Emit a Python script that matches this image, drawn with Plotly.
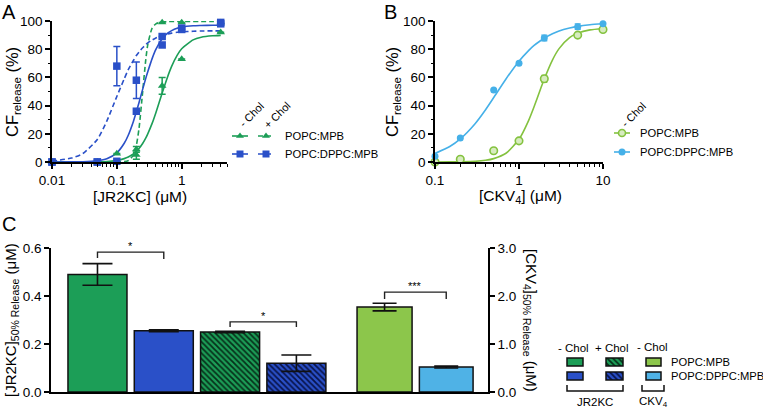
import plotly.graph_objects as go

W, H = 763, 408
FONT = "Liberation Sans, Arial, sans-serif"

# ---------------- Panel A data (JR2KC) ----------------
A_X = [0.01, 0.05, 0.1, 0.2, 0.5, 1, 4]
A_POPC_NOCHOL = [0, 0, 6, 9, 54, 73, 92]
A_POPC_NOCHOL_ERR = [0, 0, 0, 2, 6, 0, 0]
A_POPC_CHOL = [0, 0, 0, 5, 99, 99, 99]
A_POPC_CHOL_ERR = [0, 0, 0, 3, 0, 0, 0]
A_DPPC_NOCHOL = [0, 0, 0.5, 36, 83, 95, 99]
A_DPPC_CHOL = [0, 0, 68, 58, 89, 94, 98]
A_DPPC_CHOL_ERR = [0, 0, 14, 13, 0, 0, 0]

# fitted curves
A_CURVE_X = [0.01, 0.02, 0.03, 0.05, 0.07, 0.1, 0.13, 0.15, 0.18, 0.2, 0.22, 0.25, 0.28,
             0.3, 0.35, 0.4, 0.5, 0.6, 0.7, 0.85, 1, 1.5, 2, 3, 4]
A_FIT_POPC_NOCHOL = [0, 0, 0.1, 0.2, 0.4, 1.2, 2.4, 3.5, 5.7, 7.6, 9.6, 13.1, 17.1,
                     20, 27.4, 35, 48.9, 59.8, 67.8, 75.6, 80.3, 86.6, 88.5, 89.5, 89.8]
A_FIT_POPC_CHOL = [0, 0, 0, 0, 0, 0.1, 0.3, 1, 4.9, 11.8, 23.9, 49.7, 73,
                   83.3, 95, 98, 99.4, 99.6, 99.7, 99.7, 99.7, 99.7, 99.7, 99.7, 99.7]
A_FIT_DPPC_NOCHOL = [0, 0.1, 0.2, 0.9, 2.3, 6.5, 13.3, 19, 28.8, 35.6, 42.2, 51.5, 59.5,
                     64, 73.3, 79.8, 87.4, 91.2, 93.2, 94.9, 95.7, 96.6, 96.8, 97, 97]
A_FIT_DPPC_CHOL = [0.6, 2.8, 6, 16, 29, 46.5, 59, 65.5, 72, 75.5, 78, 81, 83.3,
                   84.5, 86.5, 88, 89.8, 90.8, 91.4, 92, 92.3, 92.7, 92.9, 93, 93]

# ---------------- Panel B data (CKV4) ----------------
B_X = [0.1, 0.2, 0.5, 1, 2, 5, 10]
B_POPC = [0, 2, 8, 15, 59, 90, 94]
B_POPC_ERR = [0, 1, 1.5, 1.5, 2.5, 1, 0]
B_DPPC = [4, 17, 51, 70, 88, 96, 98]
B_DPPC_ERR = [0, 0, 0, 0, 2, 2, 0]

B_CURVE_X = [0.1, 0.15, 0.2, 0.3, 0.4, 0.5, 0.7, 1, 1.3, 1.5, 1.8, 2, 2.5, 3, 4, 5, 7, 10]
B_FIT_POPC = [0, 0.1, 0.2, 0.5, 1.2, 2.4, 6.2, 16.1, 29.4, 38.7, 51.6, 58.9, 72.3, 80.4,
              88.2, 91.4, 93.7, 94.5]
B_FIT_DPPC = [6.1, 11, 16.4, 27.2, 37.1, 45.7, 58.9, 71.5, 79, 82.5, 86, 87.8, 90.9, 92.9,
              95, 96.2, 97.3, 98]

# ---------------- Panel C data ----------------
C_JR2KC_LABELS = ["POPC:MPB -Chol", "POPC:DPPC:MPB -Chol", "POPC:MPB +Chol", "POPC:DPPC:MPB +Chol"]
C_JR2KC = [0.49, 0.255, 0.25, 0.12]
C_JR2KC_ERR = [0.045, 0.004, 0.003, 0.034]
C_CKV4_LABELS = ["POPC:MPB -Chol", "POPC:DPPC:MPB -Chol"]
C_CKV4 = [1.77, 0.52]
C_CKV4_ERR = [0.08, 0.02]
C_SIG = ["*", "*", "***"]

# ---------------- styles ----------------
GREEN = "#1c9e57"
BLUE = "#2a50c8"
DKGREEN = "#06301a"
DKBLUE = "#08134a"
LGREEN = "#8cc64b"
LBLUE = "#4fb2e6"
BGREEN_LINE = "#84c23f"
BBLUE_LINE = "#45b0e8"
DASH = "5px,3px"


def px(x):
    return x / W


def py(y):
    return 1 - y / H


def hatch(fg):
    return dict(shape="\\", fgcolor=fg, fgopacity=1, size=4, solidity=0.45, fillmode="overlay")


fig = go.Figure()

# ---- Panel A: fitted curves ----
for ys, col, dash in [(A_FIT_POPC_NOCHOL, GREEN, "solid"), (A_FIT_POPC_CHOL, GREEN, DASH),
                      (A_FIT_DPPC_NOCHOL, BLUE, "solid"), (A_FIT_DPPC_CHOL, BLUE, DASH)]:
    fig.add_trace(go.Scatter(x=A_CURVE_X, y=ys, mode="lines", xaxis="x", yaxis="y",
                             line=dict(color=col, width=1.6, dash=dash, shape="spline", smoothing=0.6),
                             cliponaxis=False, hoverinfo="skip"))
# ---- Panel A: points ----
for ys, err, col, sym in [(A_POPC_NOCHOL, A_POPC_NOCHOL_ERR, GREEN, "triangle-up"),
                          (A_POPC_CHOL, A_POPC_CHOL_ERR, GREEN, "triangle-up"),
                          (A_DPPC_NOCHOL, None, BLUE, "square"),
                          (A_DPPC_CHOL, A_DPPC_CHOL_ERR, BLUE, "square")]:
    fig.add_trace(go.Scatter(
        x=A_X, y=ys, mode="markers", xaxis="x", yaxis="y", cliponaxis=False,
        marker=dict(symbol=sym, size=7.5, color=col),
        error_y=(dict(type="data", array=err, color=col, thickness=1.5, width=3.5, visible=True)
                 if err is not None else None)))

# ---- Panel B: fitted curves ----
for ys, col in [(B_FIT_POPC, BGREEN_LINE), (B_FIT_DPPC, BBLUE_LINE)]:
    fig.add_trace(go.Scatter(x=B_CURVE_X, y=ys, mode="lines", xaxis="x2", yaxis="y2",
                             line=dict(color=col, width=1.6, shape="spline", smoothing=0.6),
                             cliponaxis=False, hoverinfo="skip"))
fig.add_trace(go.Scatter(
    x=B_X, y=B_POPC, mode="markers", xaxis="x2", yaxis="y2", cliponaxis=False,
    marker=dict(symbol="circle", size=7.5, color="#d7ecbf", line=dict(color=BGREEN_LINE, width=1.6)),
    error_y=dict(type="data", array=B_POPC_ERR, color=BGREEN_LINE, thickness=1.3, width=3)))
fig.add_trace(go.Scatter(
    x=B_X, y=B_DPPC, mode="markers", xaxis="x2", yaxis="y2", cliponaxis=False,
    marker=dict(symbol="circle", size=7, color=BBLUE_LINE),
    error_y=dict(type="data", array=B_DPPC_ERR, color=BBLUE_LINE, thickness=1.3, width=3)))

# ---- Panel C: bars ----
C_POS_J = [0, 1, 2, 3]
C_POS_C = [4.33, 5.26]
BAR_LINE = dict(color="#111", width=1.5)
for i, (col, pat) in enumerate([(GREEN, None), (BLUE, None), (GREEN, hatch(DKGREEN)),
                                (BLUE, hatch(DKBLUE))]):
    mk = dict(color=col, line=BAR_LINE)
    if pat:
        mk["pattern"] = pat
    fig.add_trace(go.Bar(
        x=[C_POS_J[i]], y=[C_JR2KC[i]], width=[0.89], xaxis="x3", yaxis="y3", marker=mk,
        error_y=dict(type="data", array=[C_JR2KC_ERR[i]], color="#111", thickness=1.6, width=15),
        hovertext=[C_JR2KC_LABELS[i]]))
fig.add_trace(go.Bar(
    x=C_POS_C, y=C_CKV4, width=[0.83, 0.81], xaxis="x3", yaxis="y5",
    marker=dict(color=[LGREEN, LBLUE], line=BAR_LINE),
    error_y=dict(type="data", array=C_CKV4_ERR, color="#111", thickness=1.6, width=12),
    hovertext=C_CKV4_LABELS))


# ---- Legends drawn on a pixel overlay axis (x4/y4) ----
def legend_sample(x0, x1, y, color, dash, symbol, mcolor, mline=None):
    fig.add_trace(go.Scatter(x=[x0, x1], y=[y, y], mode="lines", xaxis="x4", yaxis="y4",
                             line=dict(color=color, width=1.6, dash=dash), hoverinfo="skip"))
    fig.add_trace(go.Scatter(x=[(x0 + x1) / 2], y=[y], mode="markers", xaxis="x4", yaxis="y4",
                             marker=dict(symbol=symbol, size=7, color=mcolor,
                                         line=mline or dict(width=0)), hoverinfo="skip"))


legend_sample(232, 248, 136, GREEN, "solid", "triangle-up", GREEN)
legend_sample(258, 274, 136, GREEN, DASH, "triangle-up", GREEN)
legend_sample(232, 248, 154, BLUE, "solid", "square", BLUE)
legend_sample(258, 274, 154, BLUE, DASH, "square", BLUE)
legend_sample(614, 630, 133, BGREEN_LINE, "solid", "circle", "#d7ecbf",
              dict(color=BGREEN_LINE, width=1.6))
legend_sample(614, 630, 152, BBLUE_LINE, "solid", "circle", BBLUE_LINE)

# panel C legend swatches
SW = [(575, 16, None), (614.5, 17, True), (653.5, 15, None)]
for row_y, cols, dk in [(358, [GREEN, GREEN, LGREEN], DKGREEN), (372, [BLUE, BLUE, LBLUE], DKBLUE)]:
    for (sx, sw, hat), col in zip(SW, cols):
        mk = dict(color=col, line=BAR_LINE)
        if hat:
            mk["pattern"] = hatch(dk)
        fig.add_trace(go.Bar(x=[sx], y=[8], base=[row_y], width=[sw], xaxis="x4", yaxis="y4",
                             marker=mk, hoverinfo="skip"))

# ---- axes ----
axis_common = dict(showline=True, linecolor="black", linewidth=1.5, ticks="outside",
                   tickcolor="black", tickwidth=1.5, ticklen=5, showgrid=False, zeroline=False,
                   automargin=False,
                   tickfont=dict(size=13.5, color="black", family=FONT))

minorA = [0.02, 0.03, 0.04, 0.05, 0.06, 0.07, 0.08, 0.09, 0.2, 0.3, 0.4, 0.5, 0.6, 0.7, 0.8, 0.9,
          2, 3, 4, 5]
minorB = [0.2, 0.3, 0.4, 0.5, 0.6, 0.7, 0.8, 0.9, 2, 3, 4, 5, 6, 7, 8, 9]

fig.update_layout(
    template="none",
    width=W, height=H, margin=dict(l=0, r=0, t=0, b=0, pad=0, autoexpand=False),
    paper_bgcolor="white", plot_bgcolor="rgba(0,0,0,0)", showlegend=False, barmode="overlay",
    font=dict(family=FONT, color="black"),
    xaxis=dict(axis_common, type="log", domain=[px(52), px(227)], range=[-2, 0.699], anchor="y",
               tickvals=[0.01, 0.1, 1], ticktext=["0.01", "0.1", "1"],
               minor=dict(ticks="outside", ticklen=3, tickwidth=1, tickcolor="black", tickvals=minorA)),
    yaxis=dict(axis_common, domain=[py(162), py(21)], range=[0, 100], anchor="x",
               tickvals=[0, 20, 40, 60, 80, 100],
               minor=dict(ticks="outside", ticklen=2.5, tickwidth=1, tickcolor="black",
                          tickvals=[10, 30, 50, 70, 90])),
    xaxis2=dict(axis_common, type="log", domain=[px(435), px(603)], range=[-1, 1], anchor="y2",
                tickvals=[0.1, 1, 10], ticktext=["0.1", "1", "10"],
                minor=dict(ticks="outside", ticklen=3, tickwidth=1, tickcolor="black", tickvals=minorB)),
    yaxis2=dict(axis_common, domain=[py(162), py(21)], range=[0, 100], anchor="x2",
                tickvals=[0, 20, 40, 60, 80, 100],
                minor=dict(ticks="outside", ticklen=2.5, tickwidth=1, tickcolor="black",
                           tickvals=[10, 30, 50, 70, 90])),
    xaxis3=dict(axis_common, domain=[px(51), px(488)], range=[-0.701, 5.89], anchor="y3",
                ticks="", showticklabels=False),
    yaxis3=dict(axis_common, domain=[py(392), py(248)], range=[0, 0.6], anchor="x3",
                tickvals=[0, 0.2, 0.4, 0.6], tickformat=".1f"),
    yaxis5=dict(axis_common, domain=[py(392), py(248)], range=[0, 3], anchor="x3",
                overlaying="y3", side="right", tickvals=[0, 1, 2, 3], tickformat=".1f"),
    xaxis4=dict(domain=[0, 1], range=[0, W], visible=False, anchor="y4", fixedrange=True,
                automargin=False),
    yaxis4=dict(domain=[0, 1], range=[H, 0], visible=False, anchor="x4", fixedrange=True,
                automargin=False),
)

# ---- significance brackets (panel C) ----
BR = dict(color="#222", width=1.4)
fig.add_shape(type="path", xref="x3", yref="y3", line=BR,
              path=f"M {C_POS_J[0]},0.558 L {C_POS_J[0]},0.583 L {C_POS_J[1]},0.583 L {C_POS_J[1]},0.554")
fig.add_shape(type="path", xref="x3", yref="y3", line=BR,
              path=f"M {C_POS_J[2]},0.271 L {C_POS_J[2]},0.292 L {C_POS_J[3]},0.292 L {C_POS_J[3]},0.271")
fig.add_shape(type="path", xref="x3", yref="y5", line=BR,
              path=f"M {C_POS_C[0]},1.94 L {C_POS_C[0]},2.08 L {C_POS_C[1]},2.08 L {C_POS_C[1]},1.94")
fig.add_annotation(x=0.5, y=0.583, xref="x3", yref="y3", text=C_SIG[0], showarrow=False,
                   yanchor="bottom", yshift=-2, font=dict(size=11))
fig.add_annotation(x=2.5, y=0.292, xref="x3", yref="y3", text=C_SIG[1], showarrow=False,
                   yanchor="bottom", yshift=-2, font=dict(size=11))
fig.add_annotation(x=(C_POS_C[0] + C_POS_C[1]) / 2, y=2.08, xref="x3", yref="y5", text=C_SIG[2],
                   showarrow=False, yanchor="bottom", yshift=-2, font=dict(size=11))

# legend brackets (panel C)
fig.add_shape(type="path", xref="x4", yref="y4", line=dict(color="#111", width=1.5),
              path="M 567,385 L 567,391 L 623,391 L 623,385")
fig.add_shape(type="path", xref="x4", yref="y4", line=dict(color="#111", width=1.5),
              path="M 642,385 L 642,391 L 664,391 L 664,385")


def text(x, y, s, size=12, angle=0, xanchor="center", yanchor="middle"):
    fig.add_annotation(x=px(x), y=py(y), xref="paper", yref="paper", text=s, showarrow=False,
                       textangle=angle, xanchor=xanchor, yanchor=yanchor,
                       font=dict(size=size, color="black", family=FONT))


# panel letters
text(9, 12, "A", 20)
text(390, 12, "B", 20)
text(9, 224, "C", 20)

# axis titles
text(139.5, 196, "[JR2KC] (μM)", 15.5)
text(13, 92, "CF<sub>release</sub> (%)", 16.5, -90)
text(520, 196, "[CKV<sub>4</sub>] (μM)", 15.5)
text(393, 92, "CF<sub>release</sub> (%)", 16.5, -90)
text(11, 320, "[JR2KC]<sub>50% Release</sub> (μM)", 15, -90)
text(531, 320, "[CKV<sub>4</sub>]<sub>50% Release</sub> (μM)", 15, 90)

# legend texts panel A
text(251, 115, "- Chol", 11, -45)
text(277, 115, "+ Chol", 11, -45)
text(283, 136, "POPC:MPB", 11.2, xanchor="left")
text(283, 154, "POPC:DPPC:MPB", 11.2, xanchor="left")
# legend texts panel B
text(633, 115, "- Chol", 11, -45)
text(638, 133, "POPC:MPB", 11.2, xanchor="left")
text(638, 152, "POPC:DPPC:MPB", 11.2, xanchor="left")
# legend texts panel C
text(573, 348, "- Chol", 11.5)
text(612, 348, "+ Chol", 11.5)
text(652, 347, "- Chol", 11.5)
text(669, 362, "POPC:MPB", 11.2, xanchor="left")
text(669, 376, "POPC:DPPC:MPB", 11.2, xanchor="left")
text(595, 402, "JR2KC", 11.5)
text(653, 402, "CKV<sub>4</sub>", 11.5)

fig.write_html("out.html", config={"displayModeBar": False},
               post_script="document.body.style.margin='0px';document.body.style.overflow='hidden';")
